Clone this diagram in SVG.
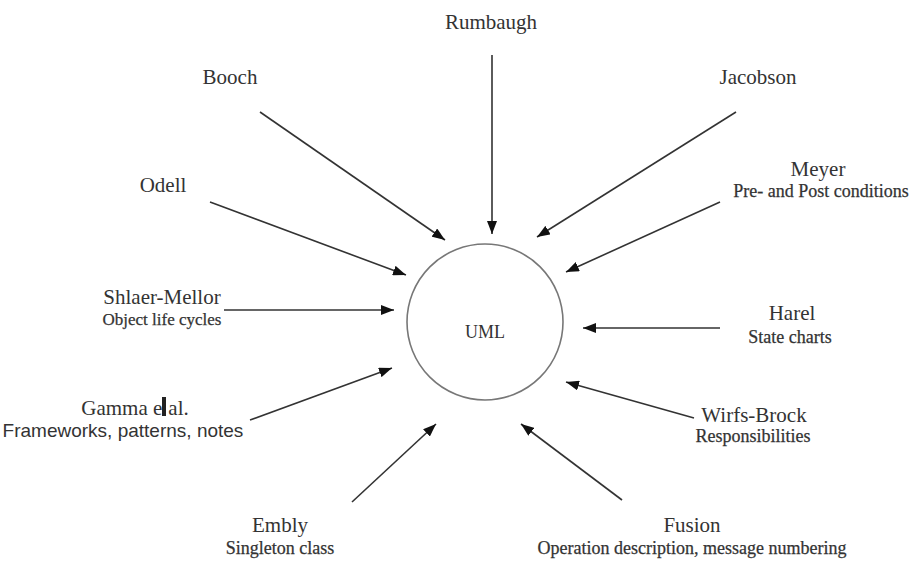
<svg xmlns="http://www.w3.org/2000/svg" width="918" height="588" viewBox="0 0 918 588">
  <style>
    .name { font-family: "Liberation Serif", "Times New Roman", serif; font-size: 21px; fill: #333; text-anchor: middle; }
    .note { font-family: "Liberation Serif", "Times New Roman", serif; font-size: 18px; fill: #333; stroke: #333; stroke-width: 0.25; text-anchor: middle; }
    .sans { font-family: "Liberation Sans", Arial, sans-serif; font-size: 19px; fill: #333; text-anchor: middle; }
    .link { stroke: #333; stroke-width: 1.6; fill: none; marker-end: url(#head); }
  </style>
  <defs>
    <marker id="head" markerUnits="userSpaceOnUse" markerWidth="14" markerHeight="10" refX="13" refY="5" orient="auto">
      <path d="M0,0 L13,5 L0,10 z" fill="#111"/>
    </marker>
  </defs>
  <rect width="918" height="588" fill="#fff"/>

  <g id="connectors">
    <line class="link" x1="492" y1="55" x2="492" y2="234"/>
    <line class="link" x1="260" y1="112" x2="445" y2="240"/>
    <line class="link" x1="736" y1="112" x2="537" y2="237"/>
    <line class="link" x1="210" y1="202" x2="406" y2="275"/>
    <line class="link" x1="720" y1="202" x2="566" y2="272"/>
    <line class="link" x1="224" y1="310" x2="394" y2="310"/>
    <line class="link" x1="720" y1="328" x2="583" y2="328"/>
    <line class="link" x1="250" y1="420" x2="392" y2="368"/>
    <line class="link" x1="694" y1="418" x2="566" y2="382"/>
    <line class="link" x1="352" y1="502" x2="436" y2="424"/>
    <line class="link" x1="622" y1="500" x2="521" y2="424"/>
  </g>

  <g id="uml">
    <circle cx="485" cy="322" r="78" fill="none" stroke="#777" stroke-width="1.6"/>
    <text class="name" x="485" y="338" style="font-size:18px">UML</text>
  </g>

  <g id="rumbaugh"><text class="name" x="491" y="29">Rumbaugh</text></g>
  <g id="booch"><text class="name" x="230" y="84">Booch</text></g>
  <g id="jacobson"><text class="name" x="758" y="84">Jacobson</text></g>
  <g id="odell"><text class="name" x="163" y="192">Odell</text></g>
  <g id="meyer">
    <text class="name" x="818" y="176">Meyer</text>
    <text class="note" x="821" y="197">Pre- and Post conditions</text>
  </g>
  <g id="shlaer-mellor">
    <text class="name" x="162" y="304">Shlaer-Mellor</text>
    <text class="note" x="162" y="325" style="font-size:17px">Object life cycles</text>
  </g>
  <g id="harel">
    <text class="name" x="792" y="320">Harel</text>
    <text class="note" x="790" y="343">State charts</text>
  </g>
  <g id="gamma">
    <!-- the "t" is hidden behind a thick caret bar -->
    <text class="name" x="135" y="415">Gamma e<tspan dx="6">al.</tspan></text>
    <rect x="162" y="397" width="4" height="19" fill="#222"/>
    <text class="sans" x="123" y="437">Frameworks, patterns, notes</text>
  </g>
  <g id="wirfs-brock">
    <text class="name" x="754" y="422">Wirfs-Brock</text>
    <text class="note" x="753" y="442">Responsibilities</text>
  </g>
  <g id="embly">
    <text class="name" x="280" y="532">Embly</text>
    <text class="note" x="280" y="554">Singleton class</text>
  </g>
  <g id="fusion">
    <text class="name" x="692" y="532">Fusion</text>
    <text class="note" x="692" y="554">Operation description, message numbering</text>
  </g>
</svg>
